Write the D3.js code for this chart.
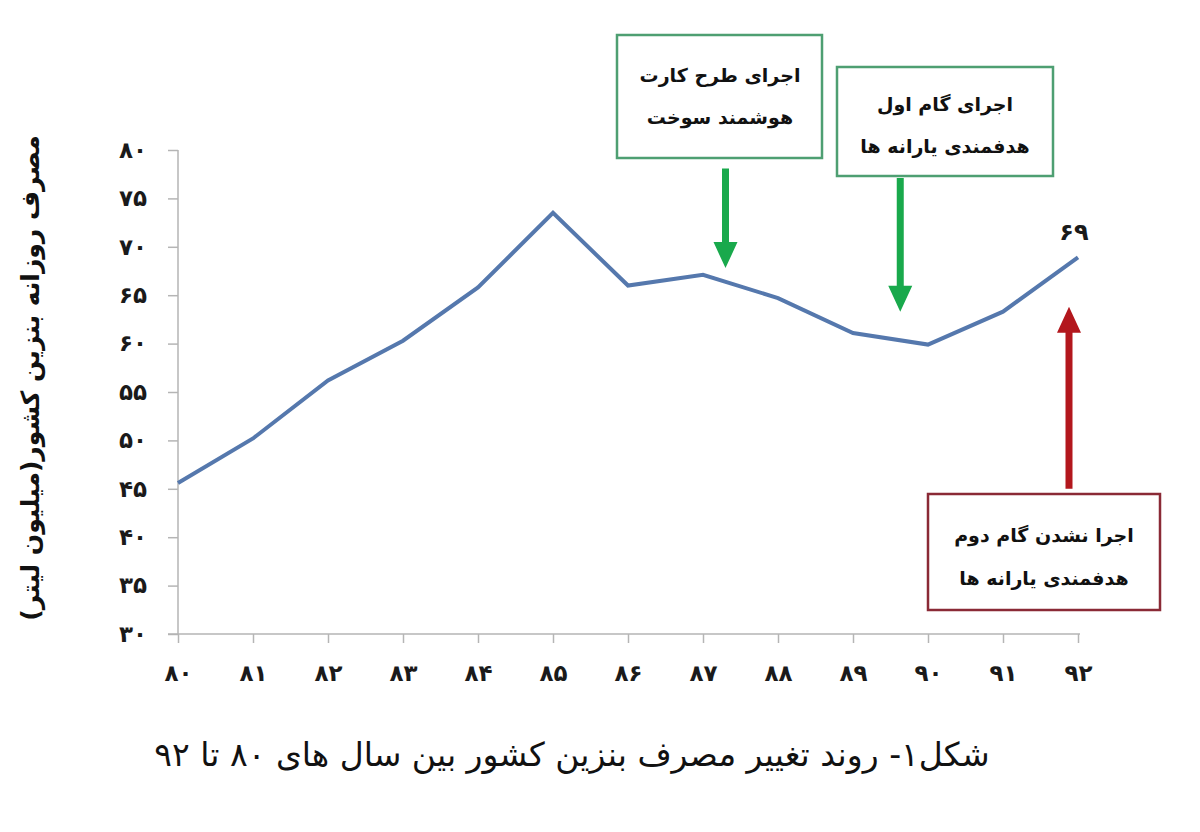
<!DOCTYPE html>
<html><head><meta charset="utf-8">
<script src="https://cdn.jsdelivr.net/npm/d3@7"></script>
<style>html,body{margin:0;padding:0;background:#fff;}svg{display:block;}</style>
</head><body>
<svg id="chart" width="1200" height="832"></svg>
<script>
const years = [80,81,82,83,84,85,86,87,88,89,90,91,92];
const consumption = [45.6,50.2,56.2,60.3,65.8,73.5,66.0,67.1,64.7,61.1,59.9,63.3,68.9];
const yTicks = [30,35,40,45,50,55,60,65,70,75,80];
const lastLabel = "۶۹";
const yTitle = "مصرف روزانه بنزین کشور(میلیون لیتر)";
const caption = "شکل۱- روند تغییر مصرف بنزین کشور بین سال های ۸۰ تا ۹۲";
const notes = [
  {lines:["اجرای طرح کارت","هوشمند سوخت"], kind:"green", year:87.3, from:78.1, to:67.8},
  {lines:["اجرای گام اول","هدفمندی یارانه ها"], kind:"green", year:89.63, from:77.1, to:63.3},
  {lines:["اجرا نشدن  گام دوم","هدفمندی یارانه ها"], kind:"red", year:91.88, from:45.0, to:63.8}
];

const fa = n => String(n).replace(/\d/g, d => "۰۱۲۳۴۵۶۷۸۹"[d]);
const FONT = "'DejaVu Sans', sans-serif";
const svg = d3.select("#chart");
const x = d3.scaleLinear().domain([80,92]).range([178,1078]);
const y = d3.scaleLinear().domain([30,80]).range([634,150]);

// axes
const yAxis = d3.axisLeft(y).tickValues(yTicks).tickSize(10).tickFormat(fa);
const gy = svg.append("g").attr("transform","translate(178,0)").call(yAxis);
gy.select(".domain").attr("stroke","#b5b5b5").attr("stroke-width",1.5).attr("d","M0,150V634");
gy.selectAll(".tick line").attr("stroke","#b5b5b5").attr("stroke-width",1.5);
gy.selectAll(".tick text").attr("x",-31).attr("font-family",FONT).attr("font-weight","bold")
  .attr("font-size",23).attr("fill","#1a1a1a");

const xAxis = d3.axisBottom(x).tickValues(years).tickSize(9).tickFormat(fa);
const gx = svg.append("g").attr("transform","translate(0,634)").call(xAxis);
gx.select(".domain").attr("stroke","#b5b5b5").attr("stroke-width",1.5).attr("d","M168,0H1080");
gx.selectAll(".tick line").attr("stroke","#b5b5b5").attr("stroke-width",1.5);
gx.selectAll(".tick text").attr("y",40).attr("dy","0.32em").attr("font-family",FONT).attr("font-weight","bold")
  .attr("font-size",23).attr("fill","#1a1a1a");

// line
const line = d3.line().x((d,i)=>x(years[i])).y(d=>y(d));
svg.append("path").datum(consumption).attr("d",line).attr("fill","none")
  .attr("stroke","#5578ad").attr("stroke-width",4).attr("stroke-linejoin","miter");

// last value label
svg.append("text").attr("x",x(92)-4).attr("y",y(consumption[12])-17).attr("text-anchor","middle")
  .attr("font-family",FONT).attr("font-weight","bold").attr("font-size",24).attr("fill","#1a1a1a")
  .text(lastLabel);

// arrows
const colors = {green:{arrow:"#19a94c", box:"#4e9f72"}, red:{arrow:"#b3171d", box:"#8a2a36"}};
function arrow(xp, y0, y1, col){
  const dir = y1 > y0 ? 1 : -1;
  const head = 26, hw = 12, sw = 3.5;
  const yb = y1 - dir*head;
  svg.append("path").attr("fill",col)
    .attr("d",`M${xp-sw},${y0}L${xp+sw},${y0}L${xp+sw},${yb}L${xp+hw},${yb}L${xp},${y1}L${xp-hw},${yb}L${xp-sw},${yb}Z`);
}
notes.forEach(n => arrow(x(n.year), y(n.from), y(n.to), colors[n.kind].arrow));

// boxes
const boxes = [
  {x:617,y:35,w:205,h:123,cx:720,l1:75,l2:117},
  {x:837,y:67,w:216,h:109,cx:945,l1:104,l2:146},
  {x:928,y:494,w:232,h:116,cx:1044,l1:535,l2:578}
];
notes.forEach((n,i) => {
  const b = boxes[i];
  svg.append("rect").attr("x",b.x).attr("y",b.y).attr("width",b.w).attr("height",b.h)
    .attr("fill","#fff").attr("stroke",colors[n.kind].box).attr("stroke-width",2.5);
  [b.l1,b.l2].forEach((ly,j) => {
    svg.append("text").attr("x",b.cx).attr("y",ly).attr("dy","0.35em").attr("text-anchor","middle")
      .attr("direction","rtl").attr("font-family",FONT).attr("font-weight","bold").attr("font-size",19)
      .attr("fill","#111").text(n.lines[j]);
  });
});

// y title
svg.append("text").attr("transform","translate(30,378) rotate(-90)").attr("text-anchor","middle")
  .attr("dy","0.35em").attr("direction","rtl").attr("font-family",FONT).attr("font-weight","bold")
  .attr("font-size",25).attr("fill","#111").text(yTitle);

// caption
svg.append("text").attr("x",572).attr("y",754).attr("dy","0.35em").attr("text-anchor","middle")
  .attr("direction","rtl").attr("font-family",FONT).attr("font-size",33).attr("fill","#111").text(caption);
</script>
</body></html>
